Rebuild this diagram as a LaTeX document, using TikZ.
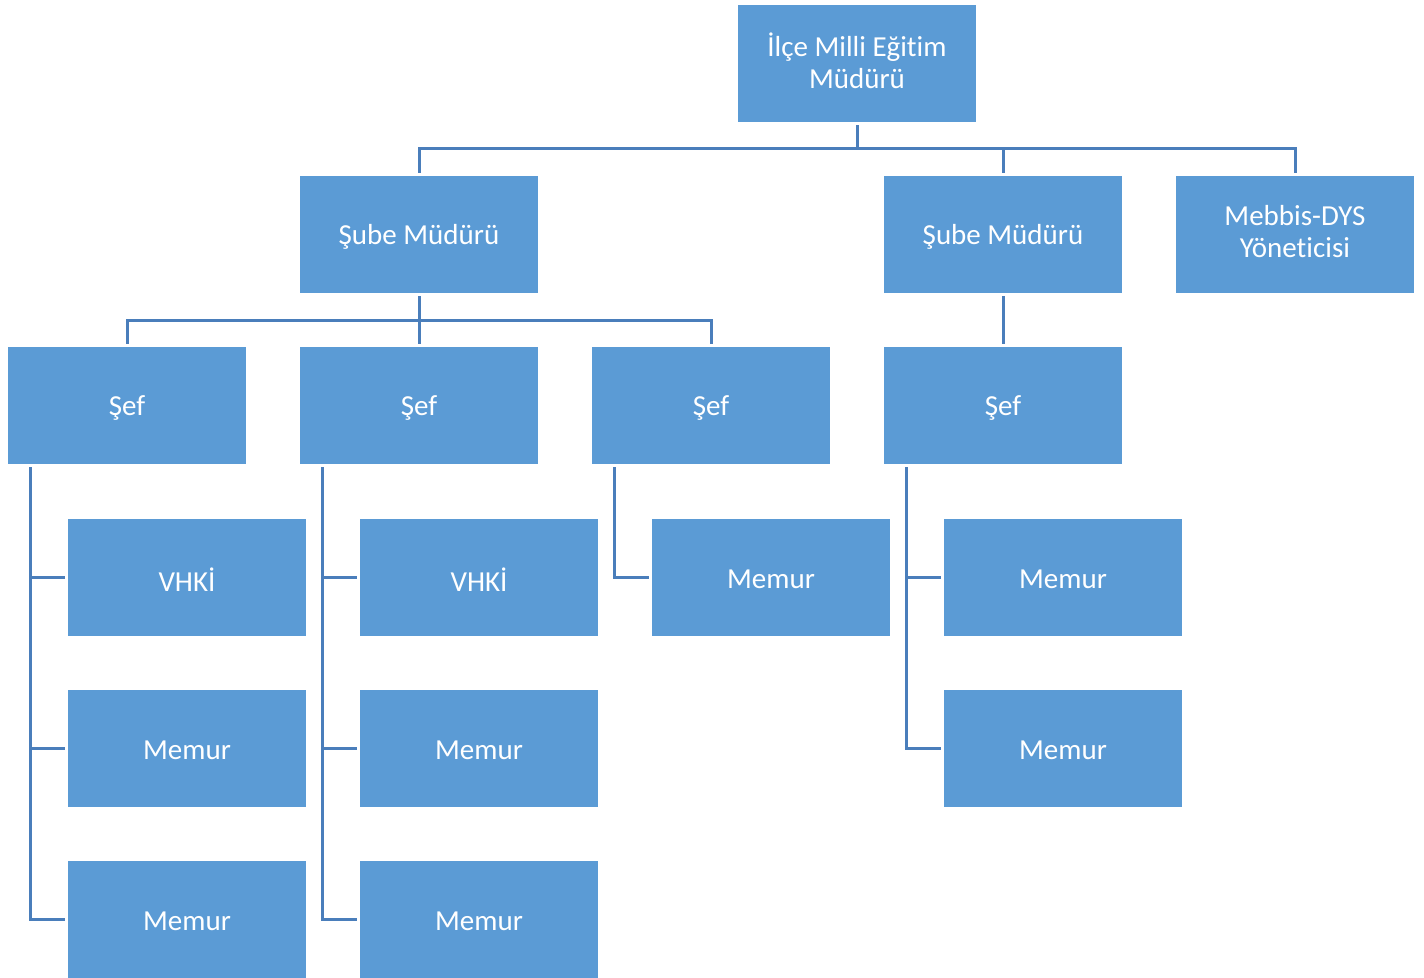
\documentclass[tikz,border=0pt]{standalone}
\usepackage{fontspec}
\setmainfont{Carlito}[Ligatures=NoCommon]
\definecolor{boxfill}{HTML}{5B9BD5}
\definecolor{linecol}{HTML}{4A7EBB}
\begin{document}
\begin{tikzpicture}[x=1pt,y=-1pt,
  orgbox/.style={rectangle,fill=boxfill,draw=none,minimum width=238pt,minimum height=117pt,inner sep=0pt,
    text=white,align=center,font=\fontsize{29}{32}\selectfont},
  lbl/.style={text=white,align=center,font=\fontsize{29}{32}\selectfont,yshift=-2pt},
  lbltwo/.style={lbl,yshift=5pt},
  conn/.style={draw=linecol,line width=3pt,shorten <=3pt,shorten >=3pt}]
\useasboundingbox (0,0) rectangle (1424,977);
\foreach \n/\x/\y/\s/\t in {top/857/63.5/lbltwo/{İlçe Milli Eğitim\\Müdürü},
  sm1/419/234.5/lbl/{Şube Müdürü}, sm2/1003/234.5/lbl/{Şube Müdürü}, meb/1295/234.5/lbltwo/{Mebbis-DYS\\Yöneticisi},
  s1/127/405.5/lbl/Şef, s2/419/405.5/lbl/Şef, s3/711/405.5/lbl/Şef, s4/1003/405.5/lbl/Şef,
  a1/187/577.5/lbl/VHKİ, a2/187/748.5/lbl/Memur, a3/187/919.5/lbl/Memur,
  b1/479/577.5/lbl/VHKİ, b2/479/748.5/lbl/Memur, b3/479/919.5/lbl/Memur,
  c1/771/577.5/lbl/Memur, d1/1063/577.5/lbl/Memur, d2/1063/748.5/lbl/Memur}{
  \node[orgbox] (\n) at (\x,\y) {};
  \node[\s] (\n-t) at (\n.center) {\t};
}
\draw[conn] (top.south) -- ++(0,26) -| (sm1.north);
\draw[conn] (top.south) -- ++(0,26) -| (sm2.north);
\draw[conn] (top.south) -- ++(0,26) -| (meb.north);
\draw[conn] (sm1.south) -- ++(0,27) -| (s1.north);
\draw[conn] (sm1.south) -- ++(0,27) -| (s2.north);
\draw[conn] (sm1.south) -- ++(0,27) -| (s3.north);
\draw[conn] (sm2.south) -- (s4.north);
\foreach \p/\c in {s1/a1,s1/a2,s1/a3,s2/b1,s2/b2,s2/b3,s3/c1,s4/d1,s4/d2}{
  \draw[conn] ([xshift=23pt]\p.south west) |- (\c.west);
}
\end{tikzpicture}
\end{document}
